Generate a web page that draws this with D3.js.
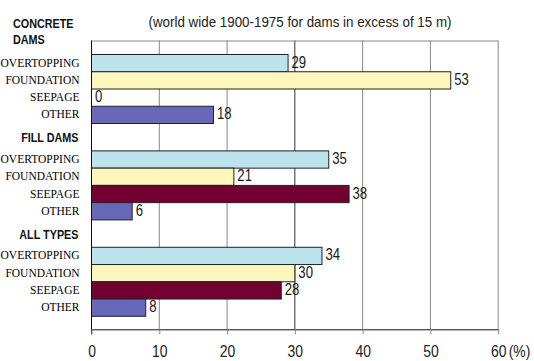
<!DOCTYPE html>
<html>
<head>
<meta charset="utf-8">
<script src="https://cdn.jsdelivr.net/npm/d3@7"></script>
<style>
  html, body { margin: 0; padding: 0; background: #fff; }
  svg { display: block; }
  .narrow { font-family: "Liberation Sans", Arial, sans-serif; }
</style>
</head>
<body>
<svg id="chart" width="534" height="361"></svg>
<script>
// Dam failure causes, percentage of failures per dam type
const groups = ["CONCRETE DAMS", "FILL DAMS", "ALL TYPES"];
const causes = ["OVERTOPPING", "FOUNDATION", "SEEPAGE", "OTHER"];
const concreteValues = [29, 53, 0, 18];
const fillValues = [35, 21, 38, 6];
const allTypesValues = [34, 30, 28, 8];
const xTicks = [0, 10, 20, 30, 40, 50, 60];
const title = "(world wide 1900-1975 for dams in excess of 15 m)";

const causeColors = ["#bde3ec", "#fdf7be", "#720030", "#6868b8"];
const seriesByGroup = [concreteValues, fillValues, allTypesValues];

// horizontal squeeze that gives the sans text its condensed look
const SQUEEZE = 0.82;

const svg = d3.select("#chart");
const plotLeft = 91, plotRight = 497.7, plotTop = 40.5, plotBottom = 329.3;

const x = d3.scaleLinear().domain([0, 60]).range([plotLeft, plotRight]);
const yGroup = d3.scaleBand().domain(groups).range([plotTop, plotBottom])
  .paddingInner(0.284).paddingOuter(0.14);
const yCause = d3.scaleBand().domain(causes).range([0, yGroup.bandwidth()]).padding(0);

// title
svg.append("text").attr("class", "narrow")
  .attr("x", 300).attr("y", 27)
  .attr("text-anchor", "middle")
  .attr("font-size", 15)
  .attr("fill", "#222")
  .attr("textLength", 303).attr("lengthAdjust", "spacingAndGlyphs")
  .text(title);

// vertical gridlines
svg.append("g").selectAll("line").data(xTicks.slice(1)).join("line")
  .attr("x1", d => x(d) + 0.5).attr("x2", d => x(d) + 0.5)
  .attr("y1", plotTop).attr("y2", plotBottom)
  .attr("stroke", d => d === 30 ? "#333" : "#888").attr("stroke-width", 1);

// top border
svg.append("line").attr("x1", plotLeft).attr("x2", x(60) + 0.5)
  .attr("y1", plotTop + 0.5).attr("y2", plotTop + 0.5)
  .attr("stroke", "#888");

// bars
const gBars = svg.append("g");
const gValues = svg.append("g");
groups.forEach((g, gi) => {
  const vals = seriesByGroup[gi];
  const y0 = yGroup(g);
  gBars.append("g").selectAll("rect").data(causes.filter((c, i) => vals[i] > 0)).join("rect")
    .attr("x", x(0) + 0.5)
    .attr("y", c => y0 + yCause(c) + 0.5)
    .attr("width", c => x(vals[causes.indexOf(c)]) - x(0))
    .attr("height", yCause.bandwidth())
    .attr("fill", c => causeColors[causes.indexOf(c)])
    .attr("stroke", "#222").attr("stroke-width", 1);

  // value labels
  gValues.append("g").selectAll("text").data(causes).join("text")
    .attr("class", "narrow")
    .attr("transform", c => `translate(${x(vals[causes.indexOf(c)]) + 4},${y0 + yCause(c) + yCause.bandwidth() / 2 + 5}) scale(${SQUEEZE},1)`)
    .attr("font-size", 16)
    .attr("fill", "#1a1a1a")
    .text(c => vals[causes.indexOf(c)]);

  // cause labels
  svg.append("g").selectAll("text").data(causes).join("text")
    .attr("x", 79.5)
    .attr("y", c => y0 + yCause(c) + yCause.bandwidth() / 2 + 4)
    .attr("text-anchor", "end")
    .attr("font-family", "'Liberation Serif', 'Times New Roman', serif")
    .attr("font-size", 11.5)
    .attr("fill", "#000")
    .text(c => c);
});

// group headings
const headFont = "'Liberation Sans', Arial, sans-serif";
function heading(tx, ty, anchor, label) {
  svg.append("text")
    .attr("transform", `translate(${tx},${ty}) scale(0.9,1)`)
    .attr("text-anchor", anchor)
    .attr("font-family", headFont).attr("font-weight", "bold")
    .attr("font-size", 12).attr("fill", "#111")
    .text(label);
}
const concreteWords = groups[0].split(" ");
heading(13, 28, "start", concreteWords[0]);
heading(13, 43.5, "start", concreteWords[1]);
groups.slice(1).forEach(g => heading(78.5, yGroup(g) - 8, "end", g));

// left axis line
svg.append("line").attr("x1", plotLeft + 0.5).attr("x2", plotLeft + 0.5)
  .attr("y1", plotTop).attr("y2", plotBottom + 5)
  .attr("stroke", "#111");

// bottom axis
const xAxis = d3.axisBottom(x).tickValues(xTicks).tickSize(5).tickSizeOuter(0).tickPadding(11);
const ax = svg.append("g").attr("transform", `translate(0.5,${plotBottom})`).call(xAxis);
ax.select(".domain").attr("stroke", "#111");
ax.selectAll(".tick line").attr("stroke", "#888");
ax.selectAll(".tick text").attr("class", "narrow")
  .attr("font-size", 17).attr("fill", "#222")
  .attr("transform", `scale(${SQUEEZE},1)`);

// unit after the last tick label
svg.append("text").attr("class", "narrow")
  .attr("transform", `translate(${x(60) + 11},357.3) scale(${SQUEEZE},1)`)
  .attr("font-size", 17).attr("fill", "#222")
  .text("(%)");
</script>
</body>
</html>
